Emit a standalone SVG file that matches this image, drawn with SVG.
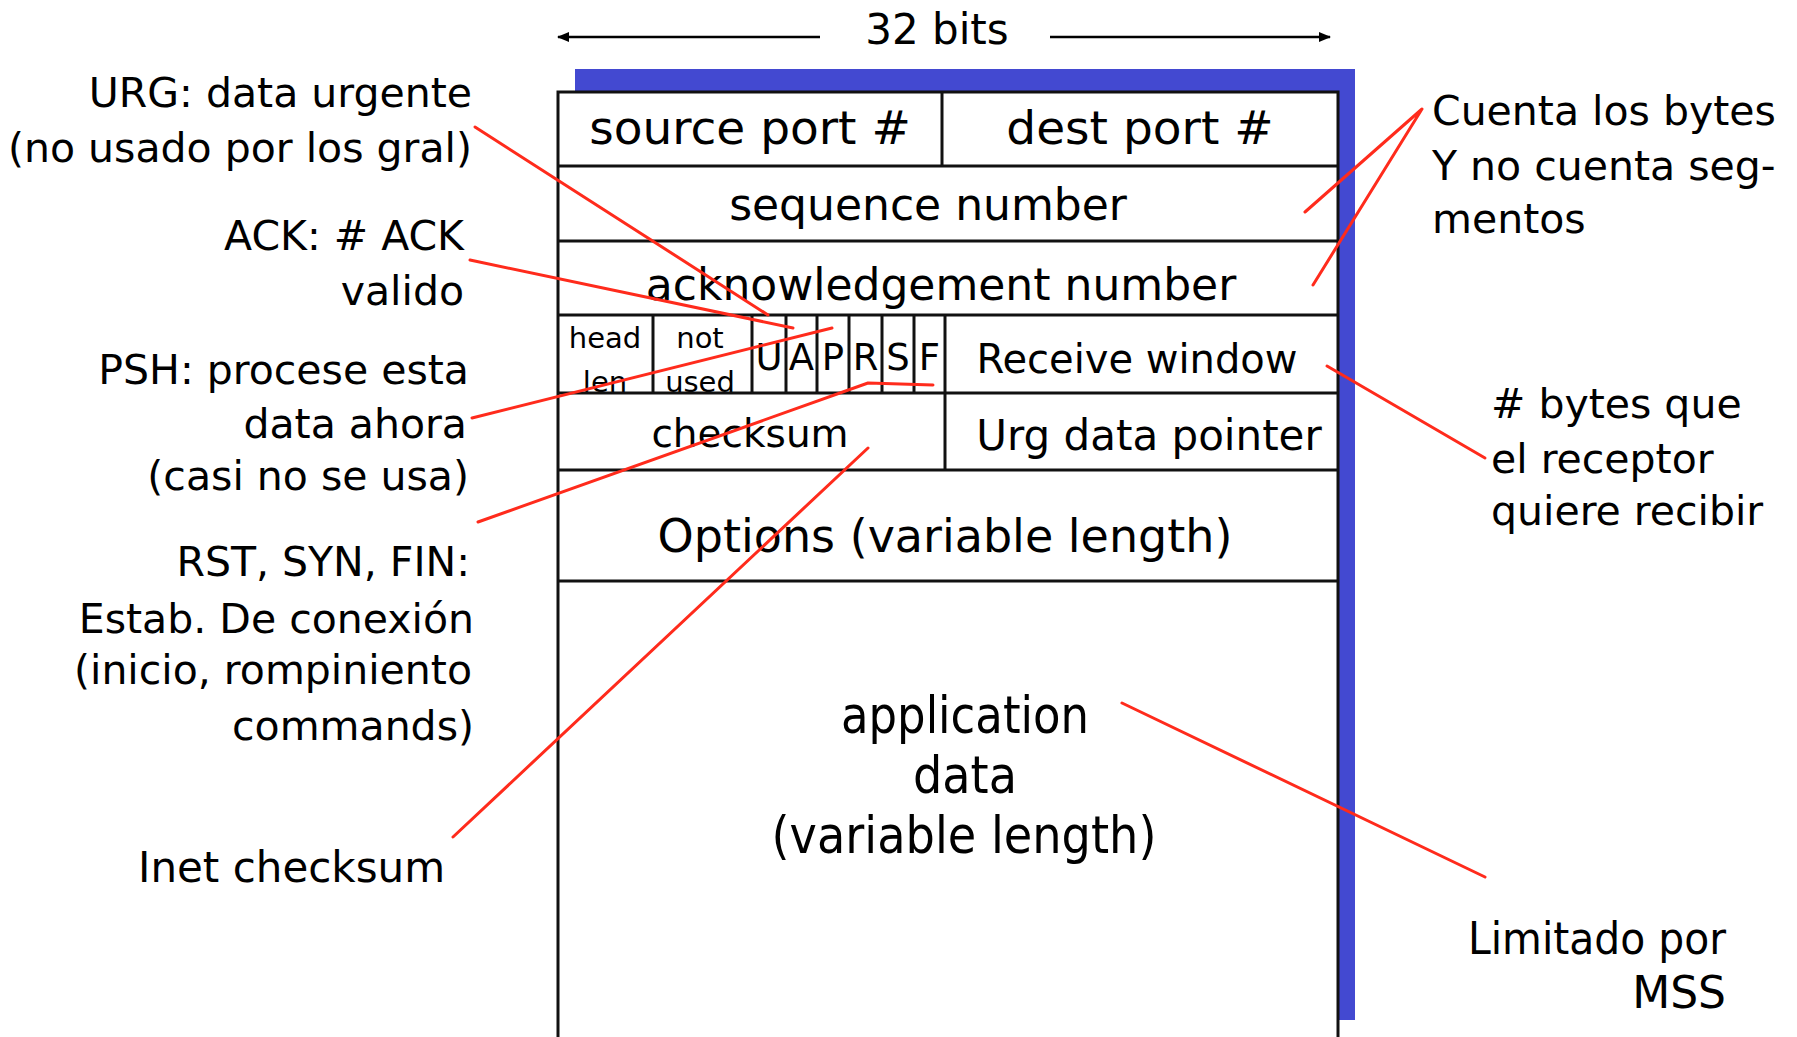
<svg xmlns="http://www.w3.org/2000/svg" width="1797" height="1037" viewBox="0 0 1797 1037">
  <defs>
    <style>
      text { font-family: "DejaVu Sans", "Liberation Sans", sans-serif; fill: #000; }
      .lbl { font-size: 41px; }
      .grid { stroke: #111; stroke-width: 3; fill: none; }
      .lead { stroke: #ff2b1c; stroke-width: 3; fill: none; stroke-linecap: round; stroke-linejoin: round; }
      .dim { stroke: #000; stroke-width: 2.5; fill: none; }
    </style>
    <marker id="tip" viewBox="0 0 12 10" refX="11" refY="5" markerWidth="12" markerHeight="10" markerUnits="userSpaceOnUse" orient="auto">
      <path d="M0,0 L12,5 L0,10 z" fill="#000"/>
    </marker>
  </defs>

  <rect width="1797" height="1037" fill="#fff"/>

  <!-- width dimension -->
  <g id="width-dimension">
    <line class="dim" x1="820" y1="37" x2="558" y2="37" marker-end="url(#tip)"/>
    <line class="dim" x1="1050" y1="37" x2="1330" y2="37" marker-end="url(#tip)"/>
    <text x="937" y="44" font-size="42" text-anchor="middle">32 bits</text>
  </g>

  <!-- segment frame -->
  <g id="segment">
    <rect x="575" y="69" width="780" height="951" fill="#4349d1"/>
    <rect x="558" y="92" width="780" height="960" fill="#fff"/>
  </g>

  <!-- header fields -->
  <g id="field-source-port"><text x="750" y="144" font-size="47" text-anchor="middle">source port #</text></g>
  <g id="field-dest-port"><text x="1140" y="144" font-size="47" text-anchor="middle">dest port #</text></g>
  <g id="field-sequence"><text x="928" y="220" font-size="44" text-anchor="middle">sequence number</text></g>
  <g id="field-ack"><text x="941" y="300" font-size="44" text-anchor="middle">acknowledgement number</text></g>
  <g id="field-head-len">
    <text x="605" y="348" font-size="29" text-anchor="middle">head</text>
    <text x="605" y="392" font-size="29" text-anchor="middle">len</text>
  </g>
  <g id="field-not-used">
    <text x="700" y="348" font-size="29" text-anchor="middle">not</text>
    <text x="700" y="392" font-size="29" text-anchor="middle">used</text>
  </g>
  <g id="field-flags" font-size="37" text-anchor="middle">
    <text x="769" y="370">U</text>
    <text x="801.5" y="370">A</text>
    <text x="833" y="370">P</text>
    <text x="865.5" y="370">R</text>
    <text x="898" y="370">S</text>
    <text x="929.5" y="370">F</text>
  </g>
  <g id="field-receive-window"><text x="1137" y="373" font-size="40" text-anchor="middle">Receive window</text></g>
  <g id="field-checksum"><text x="750" y="447" font-size="39" text-anchor="middle">checksum</text></g>
  <g id="field-urg-pointer"><text x="1149" y="450" font-size="42" text-anchor="middle">Urg data pointer</text></g>
  <g id="field-options"><text x="945" y="552" font-size="46" text-anchor="middle">Options (variable length)</text></g>
  <g id="field-data" font-size="52" text-anchor="middle">
    <text x="965" y="733" textLength="248" lengthAdjust="spacingAndGlyphs">application</text>
    <text x="965" y="793" textLength="104" lengthAdjust="spacingAndGlyphs">data</text>
    <text x="964" y="853" textLength="385" lengthAdjust="spacingAndGlyphs">(variable length)</text>
  </g>

  <!-- field borders -->
  <g id="grid" class="grid">
    <rect x="558" y="92" width="780" height="960"/>
    <line x1="558" y1="166" x2="1338" y2="166"/>
    <line x1="558" y1="241" x2="1338" y2="241"/>
    <line x1="558" y1="315" x2="1338" y2="315"/>
    <line x1="558" y1="393" x2="1338" y2="393"/>
    <line x1="558" y1="470" x2="1338" y2="470"/>
    <line x1="558" y1="581" x2="1338" y2="581"/>
    <line x1="942" y1="92" x2="942" y2="166"/>
    <line x1="945" y1="315" x2="945" y2="470"/>
    <line x1="653" y1="315" x2="653" y2="393"/>
    <line x1="752" y1="315" x2="752" y2="393"/>
    <line x1="786" y1="315" x2="786" y2="393"/>
    <line x1="817" y1="315" x2="817" y2="393"/>
    <line x1="849" y1="315" x2="849" y2="393"/>
    <line x1="882" y1="315" x2="882" y2="393"/>
    <line x1="914" y1="315" x2="914" y2="393"/>
  </g>

  <!-- annotations, left -->
  <g id="note-urg" class="lbl" text-anchor="end">
    <text x="472" y="107">URG: data urgente</text>
    <text x="472" y="162">(no usado por los gral)</text>
  </g>
  <g id="note-ack" class="lbl" text-anchor="end">
    <text x="464" y="250">ACK: # ACK</text>
    <text x="464" y="305">valido</text>
  </g>
  <g id="note-psh" class="lbl" text-anchor="end">
    <text x="469" y="384">PSH: procese esta</text>
    <text x="467" y="438">data ahora</text>
    <text x="469" y="490">(casi no se usa)</text>
  </g>
  <g id="note-rst" class="lbl" text-anchor="end">
    <text x="470" y="576">RST, SYN, FIN:</text>
    <text x="474" y="633">Estab. De conexión</text>
    <text x="472" y="684">(inicio, rompiniento</text>
    <text x="474" y="740">commands)</text>
  </g>
  <g id="note-checksum">
    <text x="138" y="882" font-size="42">Inet checksum</text>
  </g>

  <!-- annotations, right -->
  <g id="note-bytes" class="lbl">
    <text x="1432" y="125">Cuenta los bytes</text>
    <text x="1432" y="180">Y no cuenta seg-</text>
    <text x="1432" y="233">mentos</text>
  </g>
  <g id="note-window" class="lbl">
    <text x="1491" y="418"># bytes que</text>
    <text x="1491" y="473">el receptor</text>
    <text x="1491" y="525">quiere recibir</text>
  </g>
  <g id="note-mss" text-anchor="end" font-size="44">
    <text x="1726" y="954" textLength="258" lengthAdjust="spacingAndGlyphs">Limitado por</text>
    <text x="1726" y="1008">MSS</text>
  </g>

  <!-- leader lines -->
  <g id="connectors" class="lead">
    <line x1="475" y1="127" x2="768" y2="315"/>
    <line x1="470" y1="260" x2="793" y2="328"/>
    <line x1="472" y1="418" x2="832" y2="328"/>
    <polyline points="478,522 868,383 933,385"/>
    <line x1="453" y1="837" x2="868" y2="448"/>
    <polyline points="1305,212 1422,109 1313,285"/>
    <line x1="1327" y1="366" x2="1485" y2="458"/>
    <line x1="1122" y1="703" x2="1485" y2="877"/>
  </g>
</svg>
